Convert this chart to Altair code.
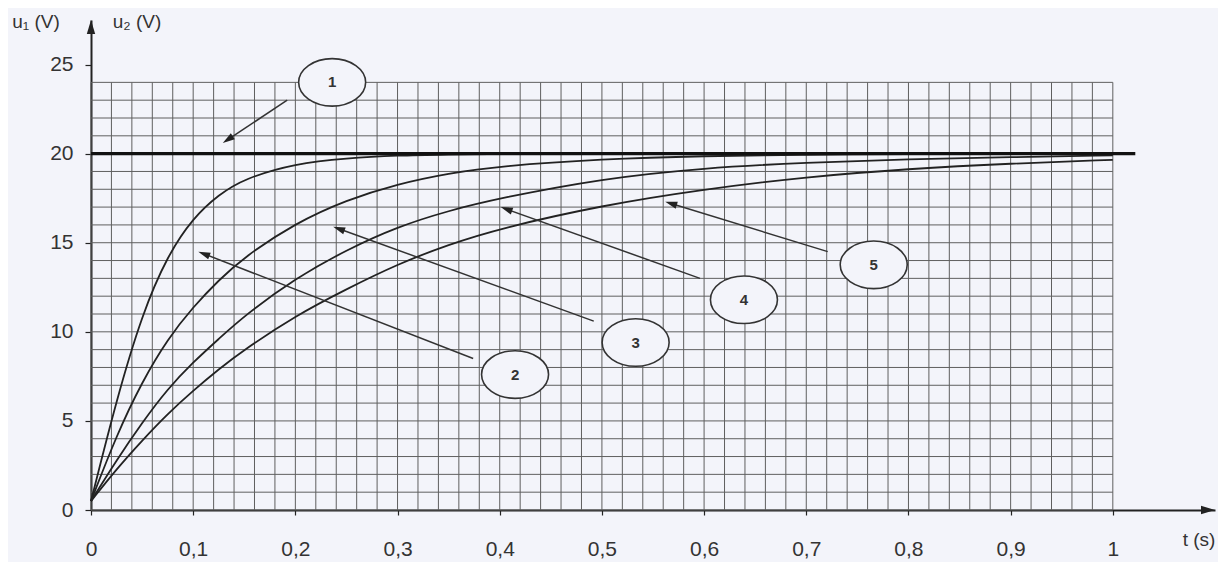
import math
import altair as alt
import pandas as pd

# ---------------- data ----------------
t_pts = [0.0, 0.025, 0.05, 0.075, 0.10, 0.125, 0.15, 0.20, 0.25, 0.30,
         0.35, 0.40, 0.50, 0.60, 0.70, 0.80, 0.90, 1.00]
curve2 = [0.5, 6.2, 11.0, 14.3, 16.4, 17.7, 18.6, 19.45, 19.75, 19.9,
          19.95, 20.0, 20.0, 20.0, 20.0, 20.0, 20.0, 20.0]
curve3 = [0.5, 4.2, 7.2, 9.6, 11.4, 12.9, 14.2, 16.1, 17.4, 18.3,
          18.9, 19.3, 19.7, 19.87, 19.94, 19.98, 20.0, 20.0]
curve4 = [0.5, 2.8, 4.9, 6.8, 8.3, 9.6, 10.9, 13.0, 14.6, 15.9,
          16.8, 17.5, 18.6, 19.2, 19.5, 19.7, 19.8, 19.9]
curve5 = [0.5, 2.3, 3.9, 5.4, 6.7, 7.9, 9.0, 10.9, 12.4, 13.8,
          14.9, 15.8, 17.1, 18.0, 18.7, 19.15, 19.45, 19.65]
curve_names = ["2", "3", "4", "5"]

step_t = [0.0, 1.022]      # curve 1 (u1 = 20 V)
step_u = [20.0, 20.0]

label_names = ["1", "2", "3", "4", "5"]
ell_t = [0.236, 0.415, 0.533, 0.639, 0.766]
ell_u = [24.0, 7.6, 9.4, 11.8, 13.76]
arr_t0 = [0.192, 0.374, 0.492, 0.596, 0.721]
arr_u0 = [23.0, 8.5, 10.6, 13.0, 14.5]
arr_t1 = [0.129, 0.105, 0.237, 0.401, 0.562]
arr_u1 = [20.6, 14.5, 15.9, 17.0, 17.3]

x_ticks = [0, 0.1, 0.2, 0.3, 0.4, 0.5, 0.6, 0.7, 0.8, 0.9, 1.0]
y_ticks = [0, 5, 10, 15, 20, 25]
grid_t_step = 0.02
grid_t_max = 1.0
grid_u_max = 24

# ---------------- layout ----------------
W, H = 1124, 490
XMAX, YMAX = 1.1, 27.5
PXT, PXU = W / XMAX, H / YMAX
INK = "#222222"
BG = "#f3f4fa"
FONT = "Liberation Sans"

xs = alt.Scale(domain=[0, XMAX], nice=False, zero=False)
ys = alt.Scale(domain=[0, YMAX], nice=False, zero=False)

x_axis = alt.Axis(
    values=x_ticks, grid=False, domainColor=INK, domainWidth=2,
    tickColor=INK, tickSize=5, tickWidth=1.2, labelFlush=False,
    labelExpr="datum.value == 0 ? '0' : datum.value == 1 ? '1' : replace(format(datum.value, '.1f'), '.', ',')",
    labelFont=FONT, labelFontSize=21, labelColor="#333333", labelPadding=23, title=None,
)
y_axis = alt.Axis(
    values=y_ticks, grid=False, domainColor=INK, domainWidth=2,
    tickColor=INK, tickSize=6, tickWidth=1.2, labelFlush=False,
    labelFont=FONT, labelFontSize=21, labelColor="#333333", labelPadding=12, title=None,
)


def X(f="t"):
    return alt.X(f + ":Q", scale=xs, axis=x_axis)


def Y(f="u"):
    return alt.Y(f + ":Q", scale=ys, axis=y_axis)


# ---------------- grid ----------------
n_v = int(round(grid_t_max / grid_t_step))
vgrid = pd.DataFrame({"t": [round(i * grid_t_step, 4) for i in range(n_v + 1)]})
vgrid["u"] = 0
vgrid["u2"] = grid_u_max
hgrid = pd.DataFrame({"u": list(range(0, grid_u_max + 1))})
hgrid["t"] = 0
hgrid["t2"] = grid_t_max

vg = alt.Chart(vgrid).mark_rule(color="#5f5f5f", strokeWidth=1).encode(
    x=X(), y=Y(), y2="u2:Q")
hg = alt.Chart(hgrid).mark_rule(color="#5f5f5f", strokeWidth=1).encode(
    x=X(), x2="t2:Q", y=Y())

# ---------------- curves ----------------
rows = []
for name, vals in zip(curve_names, [curve2, curve3, curve4, curve5]):
    for t, u in zip(t_pts, vals):
        rows.append({"t": t, "u": u, "curve": name})
curves_df = pd.DataFrame(rows)

curves = alt.Chart(curves_df).mark_line(
    color=INK, strokeWidth=1.8, interpolate="basis").encode(
    x=X(), y=Y(), detail="curve:N")

step_df = pd.DataFrame({"t": step_t, "u": step_u})
step = alt.Chart(step_df).mark_line(color="#111111", strokeWidth=3.2).encode(
    x=X(), y=Y())

# ---------------- annotations ----------------
HEAD_LEN = 12  # px
arr_rows, head_rows = [], []
for i in range(len(label_names)):
    dx = (arr_t1[i] - arr_t0[i]) * PXT
    dy = -(arr_u1[i] - arr_u0[i]) * PXU
    L = math.hypot(dx, dy)
    ux, uy = dx / L, dy / L
    ang = math.degrees(math.atan2(dx, -dy)) % 360
    ct = arr_t1[i] - ux * (HEAD_LEN / 2) / PXT
    cu = arr_u1[i] + uy * (HEAD_LEN / 2) / PXU
    arr_rows.append({"t": arr_t0[i], "u": arr_u0[i], "t2": ct, "u2": cu})
    head_rows.append({"t": ct, "u": cu, "angle": ang})
arr_df = pd.DataFrame(arr_rows)
head_df = pd.DataFrame(head_rows)

arrows = alt.Chart(arr_df).mark_rule(color="#333333", strokeWidth=1.5).encode(
    x=X(), y=Y(), x2="t2:Q", y2="u2:Q")
heads = alt.Chart(head_df).mark_point(
    shape="M0,-1 L0.6,1 L-0.6,1 Z", filled=True, color="#222222", size=HEAD_LEN ** 2, opacity=1
).encode(x=X(), y=Y(), angle=alt.Angle("angle:Q", scale=None))

ell_df = pd.DataFrame({"t": ell_t, "u": ell_u, "label": label_names})
ellipses = alt.Chart(ell_df).mark_point(
    shape="M-1,0 A1,0.71 0 1,0 1,0 A1,0.71 0 1,0 -1,0 Z",
    filled=False, fill=BG, fillOpacity=1, stroke="#333333", strokeWidth=1.6,
    size=67 ** 2, opacity=1,
).encode(x=X(), y=Y())
ell_text = alt.Chart(ell_df).mark_text(
    font=FONT, fontSize=15, fontWeight="bold", color="#333333").encode(
    x=X(), y=Y(), text="label:N")

# axis arrowheads and axis titles
ax_df = pd.DataFrame({"k": [0]})
x_arrow = alt.Chart(ax_df).mark_point(
    shape="M0,-1 L0.6,1 L-0.6,1 Z", filled=True, color=INK, size=196, angle=90, opacity=1
).encode(x=alt.value(W - 7), y=alt.value(H))
y_arrow = alt.Chart(ax_df).mark_point(
    shape="M0,-1 L0.6,1 L-0.6,1 Z", filled=True, color=INK, size=196, angle=0, opacity=1
).encode(x=alt.value(0), y=alt.value(7))

titles_df = pd.DataFrame({"txt": ["u\u2081 (V)", "u\u2082 (V)", "t (s)"],
                          "px": [-55, 46, 1108], "py": [2, 2, 520]})
titles = alt.Chart(titles_df).mark_text(
    font=FONT, fontSize=19, color="#333333").encode(
    x=alt.X("px:Q", scale=None, axis=None),
    y=alt.Y("py:Q", scale=None, axis=None),
    text="txt:N")

chart = alt.layer(
    vg, hg, curves, step, arrows, heads, ellipses, ell_text,
    x_arrow, y_arrow, titles,
).properties(
    width=W, height=H,
    padding={"left": 83, "top": 12, "right": 3, "bottom": 52},
    autosize=alt.AutoSizeParams(type="none"),
    background=BG,
).configure_view(stroke=None)

chart.save("out.html", embed_options={"renderer": "svg", "actions": False})
